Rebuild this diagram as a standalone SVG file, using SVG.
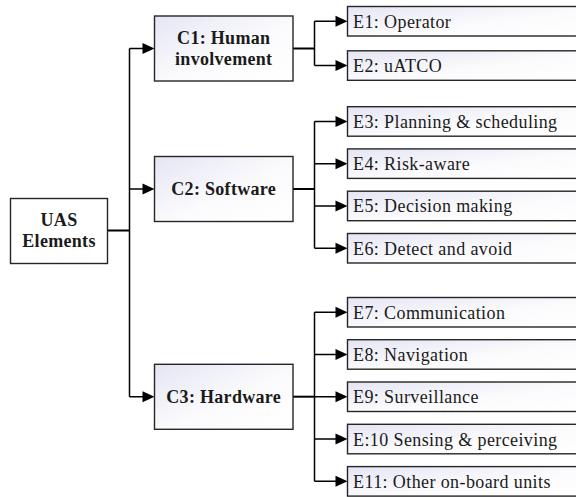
<svg xmlns="http://www.w3.org/2000/svg" width="576" height="497" viewBox="0 0 576 497">
  <defs>
    <linearGradient id="boxFill" x1="0" y1="0" x2="1" y2="1">
      <stop offset="0" stop-color="#e4e5f3"/>
      <stop offset="0.55" stop-color="#fbfbfd"/>
      <stop offset="1" stop-color="#ffffff"/>
    </linearGradient>
    <style>
      .box { stroke: #262626; stroke-width: 1.4; }
      .root { fill: #ffffff; }
      .grad { fill: url(#boxFill); }
      .bold { font-family: "Liberation Serif", "Times New Roman", serif; font-weight: bold; font-size: 18px; letter-spacing: 0.3px; fill: #1a1a1a; text-anchor: middle; }
      .item { font-family: "Liberation Serif", "Times New Roman", serif; font-size: 18px; letter-spacing: 0.4px; fill: #1a1a1a; }
      .wire { fill: none; stroke: #000; stroke-width: 1.5; }
      .stem { fill: none; stroke: #000; stroke-width: 2; }
      .head { fill: #000; stroke: none; }
    </style>
  </defs>

  <!-- connectors -->
  <g id="connectors">
    <!-- root to categories -->
    <path class="stem" d="M107.5,230.5 H129.5"/>
    <path class="wire" d="M129.5,48.5 V396.7 M129.5,48.5 H144 M129.5,189 H144 M129.5,396.7 H144"/>
    <polygon class="head" points="142.5,43 154.5,48.5 142.5,54"/>
    <polygon class="head" points="142.5,183.5 154.5,189 142.5,194.5"/>
    <polygon class="head" points="142.5,391.2 154.5,396.7 142.5,402.2"/>

    <!-- C1 to elements -->
    <path class="stem" d="M293,48.5 H314.5"/>
    <path class="wire" d="M314.5,21.3 V65.5 M314.5,21.3 H337 M314.5,65.5 H337"/>
    <polygon class="head" points="335.5,15.8 347.5,21.3 335.5,26.8"/>
    <polygon class="head" points="335.5,60 347.5,65.5 335.5,71"/>

    <!-- C2 to elements -->
    <path class="stem" d="M293,189 H314.5"/>
    <path class="wire" d="M314.5,121.4 V248.2 M314.5,121.4 H337 M314.5,163.7 H337 M314.5,206 H337 M314.5,248.2 H337"/>
    <polygon class="head" points="335.5,115.9 347.5,121.4 335.5,126.9"/>
    <polygon class="head" points="335.5,158.2 347.5,163.7 335.5,169.2"/>
    <polygon class="head" points="335.5,200.5 347.5,206 335.5,211.5"/>
    <polygon class="head" points="335.5,242.7 347.5,248.2 335.5,253.7"/>

    <!-- C3 to elements -->
    <path class="stem" d="M293,396.7 H314.5"/>
    <path class="wire" d="M314.5,312.2 V481.3 M314.5,312.2 H337 M314.5,354.4 H337 M314.5,396.7 H337 M314.5,439 H337 M314.5,481.3 H337"/>
    <polygon class="head" points="335.5,306.7 347.5,312.2 335.5,317.7"/>
    <polygon class="head" points="335.5,348.9 347.5,354.4 335.5,359.9"/>
    <polygon class="head" points="335.5,391.2 347.5,396.7 335.5,402.2"/>
    <polygon class="head" points="335.5,433.5 347.5,439 335.5,444.5"/>
    <polygon class="head" points="335.5,475.8 347.5,481.3 335.5,486.8"/>
  </g>

  <!-- root -->
  <g id="uas">
    <rect class="box root" x="10.5" y="198.5" width="97" height="65"/>
    <text class="bold" x="59" y="225.7">UAS</text>
    <text class="bold" x="59" y="247.3">Elements</text>
  </g>

  <!-- categories -->
  <g id="c1">
    <rect class="box grad" x="154.5" y="16" width="138.5" height="65"/>
    <text class="bold" x="223.7" y="44.3">C1: Human</text>
    <text class="bold" x="223.7" y="65">involvement</text>
  </g>
  <g id="c2">
    <rect class="box grad" x="154.5" y="156.5" width="138.5" height="65"/>
    <text class="bold" x="223.7" y="194.5">C2: Software</text>
  </g>
  <g id="c3">
    <rect class="box grad" x="154.5" y="364.3" width="138.5" height="65"/>
    <text class="bold" x="223.7" y="403">C3: Hardware</text>
  </g>

  <!-- elements -->
  <g id="e1">
    <rect class="box grad" x="347.5" y="6.5" width="240" height="29.5"/>
    <text class="item" x="353" y="27.7">E1: Operator</text>
  </g>
  <g id="e2">
    <rect class="box grad" x="347.5" y="50.8" width="240" height="29.5"/>
    <text class="item" x="353" y="72">E2: uATCO</text>
  </g>
  <g id="e3">
    <rect class="box grad" x="347.5" y="106.7" width="240" height="29.5"/>
    <text class="item" x="353" y="127.9">E3: Planning &amp; scheduling</text>
  </g>
  <g id="e4">
    <rect class="box grad" x="347.5" y="148.9" width="240" height="29.5"/>
    <text class="item" x="353" y="170.1">E4: Risk-aware</text>
  </g>
  <g id="e5">
    <rect class="box grad" x="347.5" y="191.2" width="240" height="29.5"/>
    <text class="item" x="353" y="212.4">E5: Decision making</text>
  </g>
  <g id="e6">
    <rect class="box grad" x="347.5" y="233.5" width="240" height="29.5"/>
    <text class="item" x="353" y="254.7">E6: Detect and avoid</text>
  </g>
  <g id="e7">
    <rect class="box grad" x="347.5" y="297.5" width="240" height="29.5"/>
    <text class="item" x="353" y="318.7">E7: Communication</text>
  </g>
  <g id="e8">
    <rect class="box grad" x="347.5" y="339.7" width="240" height="29.5"/>
    <text class="item" x="353" y="360.9">E8: Navigation</text>
  </g>
  <g id="e9">
    <rect class="box grad" x="347.5" y="382" width="240" height="29.5"/>
    <text class="item" x="353" y="403.2">E9: Surveillance</text>
  </g>
  <g id="e10">
    <rect class="box grad" x="347.5" y="424.3" width="240" height="29.5"/>
    <text class="item" x="353" y="445.5">E:10 Sensing &amp; perceiving</text>
  </g>
  <g id="e11">
    <rect class="box grad" x="347.5" y="466.6" width="240" height="29.5"/>
    <text class="item" x="353" y="487.8">E11: Other on-board units</text>
  </g>
</svg>
